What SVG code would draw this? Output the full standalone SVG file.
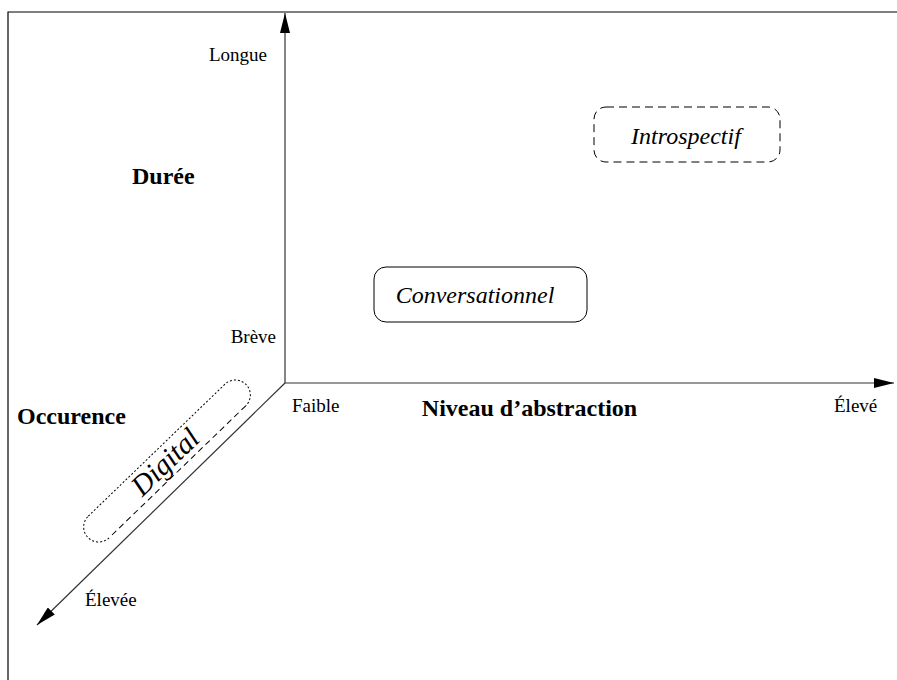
<svg xmlns="http://www.w3.org/2000/svg" width="897" height="680" viewBox="0 0 897 680">
<style>
.t{font-family:"Liberation Serif","Times New Roman",serif;fill:#000}
.s{font-size:19px}
.b{font-size:24px;font-weight:bold}
.i{font-style:italic}
.ax{stroke:#333;stroke-width:1.2;fill:none}
</style>
<defs>
<marker id="ah" markerWidth="20" markerHeight="10" refX="20" refY="5" orient="auto" markerUnits="userSpaceOnUse">
<path d="M0,0 L20,5 L0,10 Z" fill="#000"/>
</marker>
</defs>
<rect width="897" height="680" fill="#fff"/>
<g id="frame">
<path d="M8,680 V12 H897" stroke="#000" stroke-width="1.2" fill="none"/>
</g>
<g id="connectors">
<line class="ax" x1="285" y1="383" x2="285" y2="13" marker-end="url(#ah)"/>
<line class="ax" x1="285" y1="383" x2="894" y2="383" marker-end="url(#ah)"/>
<line class="ax" x1="285" y1="383" x2="37" y2="625" marker-end="url(#ah)"/>
</g>
<g id="labels">
<text class="t s" x="267" y="61" text-anchor="end">Longue</text>
<text class="t b" x="132" y="184">Durée</text>
<text class="t s" x="276" y="343" text-anchor="end">Brève</text>
<text class="t s" x="292" y="412">Faible</text>
<text class="t b" x="529.5" y="416" text-anchor="middle">Niveau d’abstraction</text>
<text class="t s" x="834" y="412">Élevé</text>
<text class="t b" x="17" y="424">Occurence</text>
<text class="t s" x="85" y="606">Élevée</text>
</g>
<g id="introspectif">
<rect x="594" y="107" width="186" height="55" rx="12" fill="none" stroke="#000" stroke-width="1" stroke-dasharray="8,5"/>
<text class="t i" x="686" y="144" font-size="24" text-anchor="middle">Introspectif</text>
</g>
<g id="conversationnel">
<rect x="374" y="267" width="213" height="55" rx="12" fill="none" stroke="#000" stroke-width="1"/>
<text class="t i" x="475" y="303" font-size="24" text-anchor="middle">Conversationnel</text>
</g>
<g id="digital" transform="translate(167,461) rotate(-44)">
<path d="M-95,-15 H95 A15,15 0 0 1 95,15 M-95,15 A15,15 0 0 1 -95,-15" fill="none" stroke="#000" stroke-width="1" stroke-dasharray="2,2"/>
<path d="M95,15 H-95" fill="none" stroke="#000" stroke-width="1" stroke-dasharray="6,4"/>
<text class="t i" x="-2" y="9" font-size="29" text-anchor="middle">Digital</text>
</g>
</svg>
